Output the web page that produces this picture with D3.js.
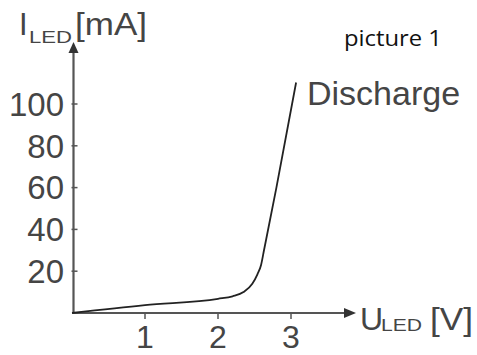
<!DOCTYPE html>
<html>
<head>
<meta charset="utf-8">
<script src="https://cdn.jsdelivr.net/npm/d3@7"></script>
<style>
  html, body { margin: 0; padding: 0; background: #fff; }
  svg { display: block; }
  text { font-family: "Liberation Sans", Arial, sans-serif; fill: #454545; }
</style>
</head>
<body>
<svg id="chart" width="477" height="355"></svg>
<script>
// Data: LED discharge characteristic (voltage in V, current in mA)
const voltage = [0, 1, 2, 2.2, 2.35, 2.47, 2.54, 2.59, 2.63, 2.8, 3.07];
const current = [0, 3.8, 6.8, 8, 10, 14, 18.5, 23, 30, 60, 110.3];
const xTicks = [1, 2, 3];
const yTicks = [20, 40, 60, 80, 100];
const seriesLabel = "Discharge";
const title = "picture 1";

const svg = d3.select("#chart");
const x = d3.scaleLinear().domain([0, 4]).range([72, 364]);
const y = d3.scaleLinear().domain([0, 100]).range([313, 104]);

const axisColor = "#555";
const x0 = x(0) + 1.5, y0 = y(0);

// axes lines
svg.append("line").attr("x1", x0).attr("y1", y0).attr("x2", x0).attr("y2", 52)
  .attr("stroke", axisColor).attr("stroke-width", 2.2);
svg.append("path").attr("d", `M${x0},42 L${x0 - 5},53 L${x0 + 5},53 Z`).attr("fill", "#333");
svg.append("line").attr("x1", x0 - 1).attr("y1", y0).attr("x2", 344).attr("y2", y0)
  .attr("stroke", axisColor).attr("stroke-width", 2.2);
svg.append("path").attr("d", `M356,${y0} L344,${y0 - 5} L344,${y0 + 5} Z`).attr("fill", "#333");

// y ticks
const yt = svg.append("g").selectAll("g").data(yTicks).join("g")
  .attr("transform", d => `translate(0,${y(d)})`);
yt.append("line").attr("x1", x0 - 2).attr("x2", x0 + 4).attr("stroke", axisColor).attr("stroke-width", 1.5);
yt.append("text").attr("x", 64).attr("dy", "0.36em").attr("text-anchor", "end")
  .style("font-size", "33px").text(d => d);

// x ticks
const xt = svg.append("g").selectAll("g").data(xTicks).join("g")
  .attr("transform", d => `translate(${x(d)},0)`);
xt.append("line").attr("y1", y0).attr("y2", y0 + 6).attr("stroke", axisColor).attr("stroke-width", 1.5);
xt.append("text").attr("y", 348).attr("text-anchor", "middle")
  .style("font-size", "32px").text(d => d);

// curve
const pts = voltage.map((v, i) => [v, current[i]]);
const line = d3.line().x(d => x(d[0])).y(d => y(d[1])).curve(d3.curveMonotoneX);
svg.append("path").datum(pts).attr("d", line)
  .attr("fill", "none").attr("stroke", "#222").attr("stroke-width", 1.8);

// labels
svg.append("text").attr("x", 307).attr("y", 105).style("font-size", "34px").text(seriesLabel);

svg.append("text").attr("x", 19).attr("y", 35).style("font-size", "31px").text("I");
svg.append("text").attr("x", 29).attr("y", 43).style("font-size", "16.5px")
  .attr("textLength", 43).attr("lengthAdjust", "spacingAndGlyphs").text("LED");
svg.append("text").attr("x", 75).attr("y", 35).style("font-size", "31px")
  .attr("textLength", 72).attr("lengthAdjust", "spacingAndGlyphs").text("[mA]");

svg.append("text").attr("x", 360).attr("y", 330).style("font-size", "32px").text("U");
svg.append("text").attr("x", 381).attr("y", 331).style("font-size", "16px")
  .attr("textLength", 41).attr("lengthAdjust", "spacingAndGlyphs").text("LED");
svg.append("text").attr("x", 430).attr("y", 330).style("font-size", "32px")
  .attr("textLength", 43).attr("lengthAdjust", "spacingAndGlyphs").text("[V]");

svg.append("text").attr("x", 344).attr("y", 46)
  .style("font-family", "'Open Sans', sans-serif").style("font-weight", "500")
  .style("font-size", "21px").style("fill", "#111")
  .attr("textLength", 98).attr("lengthAdjust", "spacingAndGlyphs").text(title);
</script>
</body>
</html>
